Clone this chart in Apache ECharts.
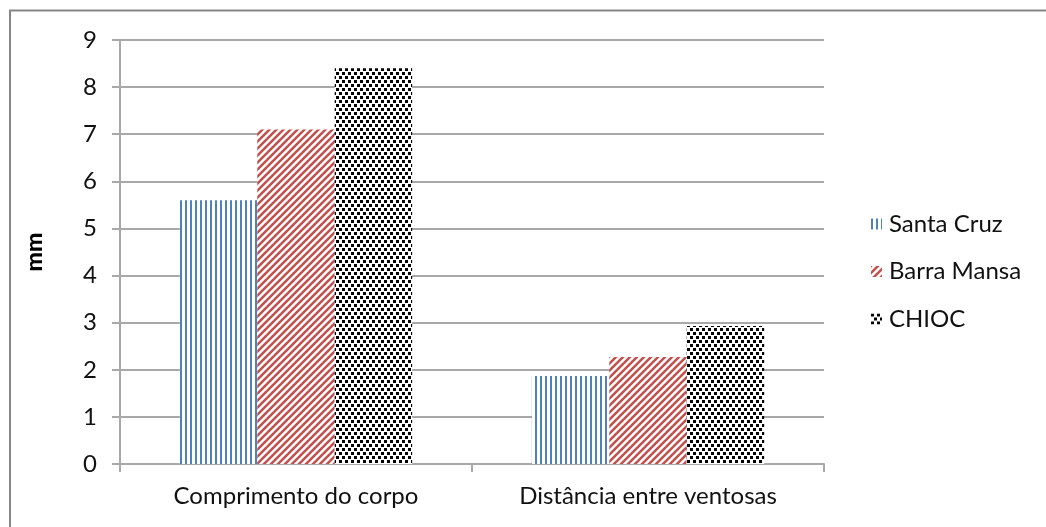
<!DOCTYPE html>
<html>
<head>
<meta charset="utf-8">
<script src="https://cdn.jsdelivr.net/npm/echarts@6/dist/echarts.min.js"></script>
<style>
  html, body { margin: 0; padding: 0; background: #fff; }
  #chart { width: 1046px; height: 527px; }
</style>
</head>
<body>
<div id="chart"></div>
<script>
// Measurements (mm) per population
const categories = ['Comprimento do corpo', 'Distância entre ventosas'];
const seriesNames = ['Santa Cruz', 'Barra Mansa', 'CHIOC'];
const santaCruz = [5.6, 1.87];
const barraMansa = [7.1, 2.27];
const chioc = [8.4, 2.93];
const yTicks = [0, 1, 2, 3, 4, 5, 6, 7, 8, 9];

const FONT = 'Lato';
const TEXT = '#111';
const LINE = '#a8a8a8';

// Fill patterns: vertical stripes, upward diagonal, dotted
function makeCanvas(w, h) {
  const c = document.createElement('canvas');
  c.width = w; c.height = h;
  return c;
}
function verticalStripes() {
  const c = makeCanvas(5, 5);
  const g = c.getContext('2d');
  g.fillStyle = '#fff'; g.fillRect(0, 0, 5, 5);
  g.fillStyle = '#4f81bd'; g.fillRect(0, 0, 2, 5);
  return c;
}
function diagonalStripes() {
  const s = 7;
  const c = makeCanvas(s, s);
  const g = c.getContext('2d');
  g.fillStyle = '#fff'; g.fillRect(0, 0, s, s);
  g.strokeStyle = '#c0504d'; g.lineWidth = 2.5;
  for (let k = -1; k <= 1; k++) {
    g.beginPath();
    g.moveTo(k * s - 1, s + 1);
    g.lineTo(k * s + s + 1, -1);
    g.stroke();
  }
  return c;
}
function dots() {
  const c = makeCanvas(6, 8);
  const g = c.getContext('2d');
  g.fillStyle = '#fff'; g.fillRect(0, 0, 6, 8);
  g.fillStyle = '#000';
  g.fillRect(0, 0, 3, 3);
  g.fillRect(3, 4, 3, 3);
  return c;
}
const fills = [
  { image: verticalStripes(), repeat: 'repeat' },
  { image: diagonalStripes(), repeat: 'repeat' },
  { image: dots(), repeat: 'repeat' }
];
const values = [santaCruz, barraMansa, chioc];

const chart = echarts.init(document.getElementById('chart'), null, { renderer: 'canvas' });
chart.setOption({
  backgroundColor: '#fff',
  animation: false,
  textStyle: { fontFamily: FONT, color: TEXT },
  graphic: [{
    type: 'rect',
    shape: { x: 10, y: 10.5, width: 1100, height: 600 },
    style: { fill: 'none', stroke: '#868686', lineWidth: 2 },
    silent: true
  }],
  grid: { left: 120, right: 222, top: 40, bottom: 63, containLabel: false },
  legend: {
    orient: 'vertical',
    left: 866,
    top: 207,
    itemWidth: 11,
    itemHeight: 11,
    itemGap: 23.5,
    icon: 'rect',
    data: seriesNames,
    textStyle: { fontFamily: FONT, fontSize: 24, lineHeight: 24, color: TEXT, padding: [0, 0, 0, 2] }
  },
  xAxis: {
    type: 'category',
    data: categories,
    axisLine: { lineStyle: { color: LINE, width: 2 } },
    axisTick: { show: true, length: 8, alignWithLabel: false, lineStyle: { color: LINE, width: 2 } },
    axisLabel: { fontFamily: FONT, fontSize: 24, color: TEXT, margin: 20 },
    splitLine: { show: false }
  },
  yAxis: {
    type: 'value',
    min: yTicks[0],
    max: yTicks[yTicks.length - 1],
    interval: 1,
    name: 'mm',
    nameLocation: 'middle',
    nameGap: 74,
    nameRotate: 90,
    nameTextStyle: { fontFamily: FONT, fontSize: 23, fontWeight: 900, color: '#000' },
    axisLine: { show: true, lineStyle: { color: LINE, width: 2 } },
    axisTick: { show: true, length: 8, lineStyle: { color: LINE, width: 2 } },
    axisLabel: { fontFamily: FONT, fontSize: 24, color: TEXT, margin: 23 },
    splitLine: { show: true, lineStyle: { color: LINE, width: 2 } }
  },
  series: seriesNames.map((name, i) => ({
    name,
    type: 'bar',
    data: values[i],
    barGap: '0%',
    barCategoryGap: '34%',
    itemStyle: { color: fills[i] }
  }))
});
</script>
</body>
</html>
